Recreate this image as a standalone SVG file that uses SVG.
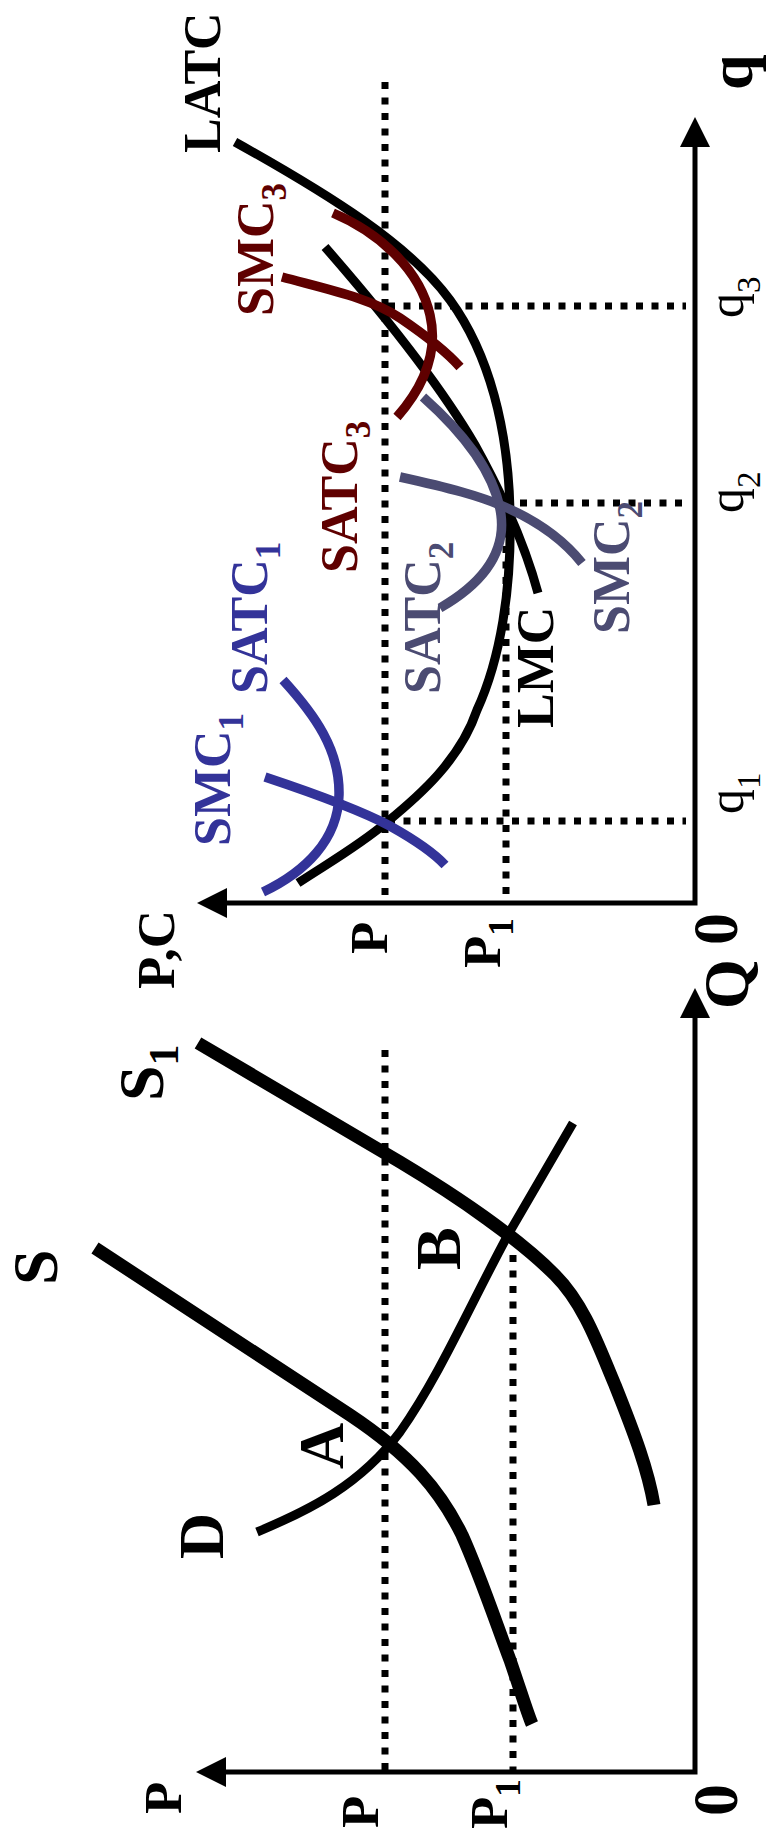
<svg xmlns="http://www.w3.org/2000/svg" width="768" height="1839" viewBox="0 0 768 1839">
<style>
text{font-family:"Liberation Serif","Times New Roman",serif;font-weight:bold;fill:#000}
.t52{font-size:52px}
.t53{font-size:53px}
.t64{font-size:64px}
.qlab{font-size:50px;font-weight:normal}
.dot{stroke:#000;stroke-width:7;stroke-dasharray:7 8.5;fill:none}
.axis{stroke:#000;stroke-width:5;fill:none}
.c{fill:none;stroke-linecap:butt;stroke-linejoin:round}
.blk{stroke:#000;stroke-width:9}
.thick{stroke:#000;stroke-width:13}
.red{stroke:#5f0000;stroke-width:9.5}
.blue{stroke:#333399;stroke-width:9.5}
.slate{stroke:#4b4b72;stroke-width:9.5}
.fred{fill:#5f0000}
.fblue{fill:#333399}
.fslate{fill:#4b4b72}
</style>
<rect width="768" height="1839" fill="#fff"/>

<g id="guides">
  <line class="dot" x1="385" y1="82" x2="385" y2="898"/>
  <line class="dot" x1="506" y1="515" x2="506" y2="898"/>
  <line class="dot" x1="388" y1="306" x2="686" y2="306"/>
  <line class="dot" x1="520" y1="503" x2="686" y2="503"/>
  <line class="dot" x1="388" y1="821" x2="686" y2="821"/>
  <line class="dot" x1="385" y1="1050" x2="385" y2="1770"/>
  <line class="dot" x1="513" y1="1255" x2="513" y2="1770"/>
</g>

<g id="firm-axes">
  <polyline class="axis" points="695,145 695,903 225,903"/>
  <polygon points="695,117 680,147 710,147" fill="#000"/>
  <polygon points="197,903 227,888 227,918" fill="#000"/>
</g>

<g id="market-axes">
  <polyline class="axis" points="695,1016 695,1772 224,1772"/>
  <polygon points="695,988 680,1018 710,1018" fill="#000"/>
  <polygon points="196,1772 226,1757 226,1787" fill="#000"/>
</g>

<g id="connectors">
  <path id="LATC-curve" class="c blk" d="M235,142 C330,195 410,245 450,300 C490,355 508,430 510,510 C512,590 500,660 477,710 C460,760 420,795 387,822 C360,845 330,862 298,883"/>
  <path id="LMC-curve" class="c blk" stroke-width="8" d="M325,247 C380,310 440,385 475,445 C500,490 525,545 538,593"/>
  <path id="SMC3-curve" class="c red" d="M282,277 C330,290 370,298 400,318 C425,335 445,350 460,367"/>
  <path id="SATC3-curve" class="c red" d="M333,213 C380,233 420,270 430,315 C438,350 425,385 397,417"/>
  <path id="SATC2-curve" class="c slate" d="M423,397 C460,430 495,470 501,515 C506,555 480,585 440,608"/>
  <path id="SMC2-curve" class="c slate" d="M400,477 C450,488 480,496 505,507 C535,520 562,538 582,563"/>
  <path id="SMC1-curve" class="c blue" d="M265,777 C310,792 360,810 390,826 C415,840 432,851 445,865"/>
  <path id="SATC1-curve" class="c blue" d="M283,680 C315,715 340,750 339,795 C338,840 305,872 263,892"/>
  <path id="S-curve" class="c thick" d="M95,1248 L350,1415 C410,1455 440,1490 462,1535 C480,1575 495,1620 510,1660 C522,1695 528,1715 532,1724"/>
  <path id="S1-curve" class="c thick" d="M198,1043 L400,1162 C460,1198 520,1240 555,1275 C585,1305 600,1350 615,1385 C635,1435 648,1470 654,1505"/>
  <path id="D-curve" class="c blk" d="M573,1123 L509,1233 C470,1305 440,1375 400,1432 C360,1485 310,1510 257,1532"/>
</g>

<g id="firm-labels">
  <g id="label-LATC"><text class="t52" transform="translate(220,153) rotate(-90)">LATC</text></g>
  <g id="label-q"><text class="t64" transform="translate(752,90) rotate(-90)">q</text></g>
  <g id="label-q3"><text class="qlab" transform="translate(743,318) rotate(-90)">q<tspan font-size="33" dy="17">3</tspan></text></g>
  <g id="label-q2"><text class="qlab" transform="translate(743,513) rotate(-90)">q<tspan font-size="33" dy="17">2</tspan></text></g>
  <g id="label-q1"><text class="qlab" transform="translate(743,814) rotate(-90)">q<tspan font-size="33" dy="17">1</tspan></text></g>
  <g id="label-SMC3"><text class="t52 fred" transform="translate(273,316) rotate(-90)">SMC<tspan font-size="35" dy="13">3</tspan></text></g>
  <g id="label-SATC3"><text class="t52 fred" transform="translate(357,573) rotate(-90)">SATC<tspan font-size="35" dy="13">3</tspan></text></g>
  <g id="label-SATC2"><text class="t52 fslate" transform="translate(440,694) rotate(-90)">SATC<tspan font-size="35" dy="13">2</tspan></text></g>
  <g id="label-SMC2"><text class="t52 fslate" transform="translate(629,634) rotate(-90)">SMC<tspan font-size="35" dy="13">2</tspan></text></g>
  <g id="label-SATC1"><text class="t52 fblue" transform="translate(267,694) rotate(-90)">SATC<tspan font-size="35" dy="13">1</tspan></text></g>
  <g id="label-SMC1"><text class="t52 fblue" transform="translate(230,846) rotate(-90)">SMC<tspan font-size="35" dy="13">1</tspan></text></g>
  <g id="label-LMC"><text class="t52" transform="translate(553,728) rotate(-90)">LMC</text></g>
  <g id="label-PC"><text class="t53" transform="translate(174,989) rotate(-90)">P,C</text></g>
  <g id="label-P-top"><text class="t53" transform="translate(387,954) rotate(-90)">P</text></g>
  <g id="label-P1-top"><text class="t53" transform="translate(500,968) rotate(-90)">P<tspan font-size="35" dy="13">1</tspan></text></g>
  <g id="label-0-top"><text class="t64" transform="translate(737,945) rotate(-90)">0</text></g>
</g>

<g id="market-labels">
  <g id="label-Q"><text class="t64" transform="translate(748,1009) rotate(-90)">Q</text></g>
  <g id="label-S1"><text class="t64" transform="translate(163,1101) rotate(-90)">S<tspan font-size="42" dy="15">1</tspan></text></g>
  <g id="label-S"><text class="t64" transform="translate(57,1285) rotate(-90)">S</text></g>
  <g id="label-B"><text class="t64" transform="translate(460,1270) rotate(-90)">B</text></g>
  <g id="label-A"><text class="t64" transform="translate(343,1469) rotate(-90)">A</text></g>
  <g id="label-D"><text class="t64" transform="translate(223,1559) rotate(-90)">D</text></g>
  <g id="label-P-axis"><text class="t53" transform="translate(181,1814) rotate(-90)">P</text></g>
  <g id="label-P-bottom"><text class="t53" transform="translate(378,1828) rotate(-90)">P</text></g>
  <g id="label-P1-bottom"><text class="t53" transform="translate(507,1829) rotate(-90)">P<tspan font-size="35" dy="13">1</tspan></text></g>
  <g id="label-0-bottom"><text class="t64" transform="translate(737,1816) rotate(-90)">0</text></g>
</g>
</svg>
